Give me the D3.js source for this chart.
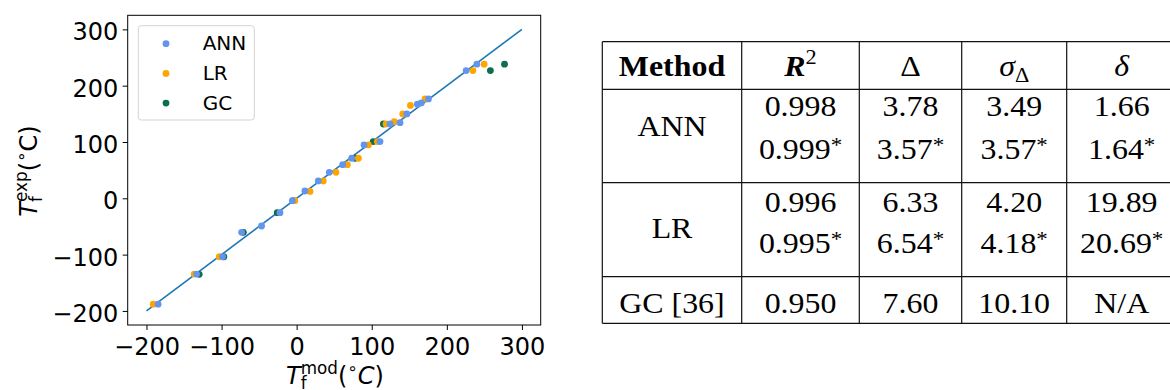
<!DOCTYPE html>
<html><head><meta charset="utf-8">
<script src="https://cdn.jsdelivr.net/npm/d3@7"></script>
<style>body{margin:0;background:#fff} svg{display:block}</style>
</head><body>
<svg id="c" width="1170" height="390"></svg>
<script>
// ---------- data ----------
const axisTicks = [-200, -100, 0, 100, 200, 300];
const identityLine = [-200, 300];

const annPred = [-184.5, -133.3, -98.7, -73.3, -46.7, -22.2, -5.8, 11, 28.8, 43.5, 61.3, 73.3, 89.7, 111, 124.4, 137.7, 146.7, 160.8, 166, 175.5, 225.7, 240];
const annExp  = [-188, -134.6, -103.8, -60.4, -49.2, -25.5, -4.2, 13, 30.8, 46.2, 59.8, 71.1, 94.8, 100.7, 132, 134.4, 149.9, 167, 169.4, 176.5, 226.9, 238.2];

const lrPred = [-191, -136.5, -103, -2.5, 17.8, 35.5, 52.4, 67.5, 82.2, 95.5, 107.5, 119, 130, 141.3, 151.5, 171, 234.7, 249.7];
const lrExp  = [-188, -134.6, -103.8, -4.2, 12.3, 30.8, 46.2, 59.8, 71.1, 94.8, 100.7, 132, 136.2, 149.9, 165, 176.5, 226.9, 238.2];

const gcPred = [-129.8, -97, -71, -25.8, -4.5, 77.7, 102, 115.5, 258, 276.8];
const gcExp  = [-135, -103.8, -60.4, -25.5, -4.2, 71.1, 100.7, 132, 226.9, 238.2];

const legendLabels = ["ANN", "LR", "GC"];
const seriesColors = ["#6495ED", "#FFA500", "#0b6e4f"];

const tableMethods = ["ANN", "LR", "GC [36]"];
const tableR2 = [["0.998", "0.999*"], ["0.996", "0.995*"], ["0.950"]];
const tableDelta = [["3.78", "3.57*"], ["6.33", "6.54*"], ["7.60"]];
const tableSigma = [["3.49", "3.57*"], ["4.20", "4.18*"], ["10.10"]];
const tableSmallDelta = [["1.66", "1.64*"], ["19.89", "20.69*"], ["N/A"]];

// ---------- chart ----------
const svg = d3.select("#c");
const x = d3.scaleLinear().domain([-225, 325]).range([127.7, 540.7]);
const y = d3.scaleLinear().domain([-225, 325]).range([325, 15.3]);

const gx = svg.append("g").attr("transform", "translate(0,325)")
  .call(d3.axisBottom(x).tickValues(axisTicks).tickSize(5).tickPadding(4));
gx.select(".domain").remove();
gx.selectAll("line").attr("stroke", "#000");
gx.selectAll("text").attr("font-size", 24).attr("font-family", "DejaVu Sans")
  .attr("fill", "#000").attr("dy", null).attr("y", 30);

const gy = svg.append("g").attr("transform", "translate(127.7,0)")
  .call(d3.axisLeft(y).tickValues(axisTicks).tickSize(5).tickPadding(4));
gy.select(".domain").remove();
gy.selectAll("line").attr("stroke", "#000");
gy.selectAll("text").attr("font-size", 24).attr("font-family", "DejaVu Sans")
  .attr("fill", "#000").attr("dy", null).attr("y", 10.5).attr("x", -9.5);

// identity line
svg.append("path")
  .attr("d", d3.line().x(d => x(d)).y(d => y(d))(identityLine))
  .attr("stroke", "#1f77b4").attr("stroke-width", 1.6).attr("fill", "none");

// scatter (draw GC, LR, then ANN on top)
const series = [
  {pred: gcPred, exp: gcExp, color: seriesColors[2]},
  {pred: lrPred, exp: lrExp, color: seriesColors[1]},
  {pred: annPred, exp: annExp, color: seriesColors[0]}
];
series.forEach(s => {
  svg.append("g").selectAll("circle").data(s.pred.map((p, i) => [p, s.exp[i]]))
    .join("circle").attr("cx", d => x(d[0])).attr("cy", d => y(d[1]))
    .attr("r", 3.4).attr("fill", s.color);
});

// frame
svg.append("rect").attr("x", 127.7).attr("y", 15.3).attr("width", 413).attr("height", 309.7)
  .attr("fill", "none").attr("stroke", "#000").attr("stroke-width", 1);

// legend
const lg = svg.append("g");
lg.append("rect").attr("x", 138.3).attr("y", 25.7).attr("width", 116).attr("height", 94.3)
  .attr("rx", 3).attr("fill", "#fff").attr("fill-opacity", 0.8)
  .attr("stroke", "#d4d4d4").attr("stroke-width", 1);
legendLabels.forEach((lab, i) => {
  const cy = 43.7 + i * 29.7;
  lg.append("circle").attr("cx", 166).attr("cy", cy).attr("r", 3.4).attr("fill", seriesColors[i]);
  lg.append("text").attr("x", 202.7).attr("y", cy + 6.5).attr("font-size", 20)
    .attr("font-family", "DejaVu Sans").attr("fill", "#000").text(lab);
});

// math labels
function mathLabel(parent, supText, italicC, fs) {
  const t = parent.append("text").attr("font-family", "DejaVu Sans").attr("font-size", fs)
    .attr("text-anchor", "middle").attr("fill", "#000");
  t.append("tspan").attr("font-style", "italic").text("T");
  const sub = t.append("tspan").attr("font-size", fs * 0.7).attr("dy", fs * 0.2).text("f");
  const subW = sub.node().getComputedTextLength();
  t.append("tspan").attr("font-size", fs * 0.7).attr("dx", -subW).attr("dy", -fs * 0.62).text(supText);
  t.append("tspan").attr("dy", fs * 0.42).text("(");
  t.append("tspan").attr("font-size", fs * 0.7).attr("dy", -fs * 0.42).text("\u2218");
  t.append("tspan").attr("dy", fs * 0.42).attr("font-style", italicC ? "italic" : "normal").text("C");
  t.append("tspan").text(")");
  return t;
}
mathLabel(svg.append("g").attr("transform", "translate(335,384)"), "mod", true, 24);
mathLabel(svg.append("g").attr("transform", "translate(37,171) rotate(-90)"), "exp", false, 24);

// ---------- table ----------
const tg = svg.append("g");
const hLines = [41.7, 89.3, 182.7, 276.7, 323.3];
const vLines = [602.3, 741.7, 859.3, 961.7, 1066.7];
const colCenters = [672, 800.5, 910.5, 1014.2, 1121.7];
hLines.forEach(yy => tg.append("line").attr("x1", 602.3).attr("x2", 1180).attr("y1", yy).attr("y2", yy)
  .attr("stroke", "#111").attr("stroke-width", 1.2));
vLines.forEach(xx => tg.append("line").attr("x1", xx).attr("x2", xx).attr("y1", 41.7).attr("y2", 323.3)
  .attr("stroke", "#111").attr("stroke-width", 1.2));

const TFS = 29, SX = 1.1;
function cell(cx, base) {
  return tg.append("g").attr("transform", `translate(${cx},${base}) scale(${SX},1)`)
    .append("text").attr("text-anchor", "middle").attr("font-family", "Liberation Serif")
    .attr("font-size", TFS).attr("fill", "#000");
}
function valueCell(cx, base, str) {
  const t = cell(cx, base);
  const parts = str.split("*");
  t.append("tspan").text(parts[0]);
  if (str.includes("*")) t.append("tspan").attr("font-size", TFS * 0.72).attr("dy", -TFS * 0.26).text("*");
}
// header
const hb = 76;
cell(colCenters[0], hb).attr("font-weight", "bold").text("Method");
{ const t = cell(colCenters[1], hb);
  t.append("tspan").attr("font-weight", "bold").attr("font-style", "italic").text("R");
  t.append("tspan").attr("font-size", TFS * 0.7).attr("dy", -TFS * 0.42).text("2"); }
cell(colCenters[2], hb).text("\u0394");
{ const t = cell(colCenters[3], hb);
  t.append("tspan").attr("font-style", "italic").text("\u03C3");
  t.append("tspan").attr("font-size", TFS * 0.7).attr("dy", TFS * 0.2).text("\u0394"); }
cell(colCenters[4], hb).attr("font-style", "italic").text("\u03B4");

const rowBaselines = [[116, 159.3], [211.7, 253.3], [313.3]];
const methodBaselines = [136, 238.3, 313.3];
const cols = [tableR2, tableDelta, tableSigma, tableSmallDelta];
tableMethods.forEach((m, i) => {
  cell(colCenters[0], methodBaselines[i]).text(m);
  cols.forEach((col, c) => {
    col[i].forEach((v, r) => valueCell(colCenters[c + 1], rowBaselines[i][r], v));
  });
});
</script>
</body></html>
